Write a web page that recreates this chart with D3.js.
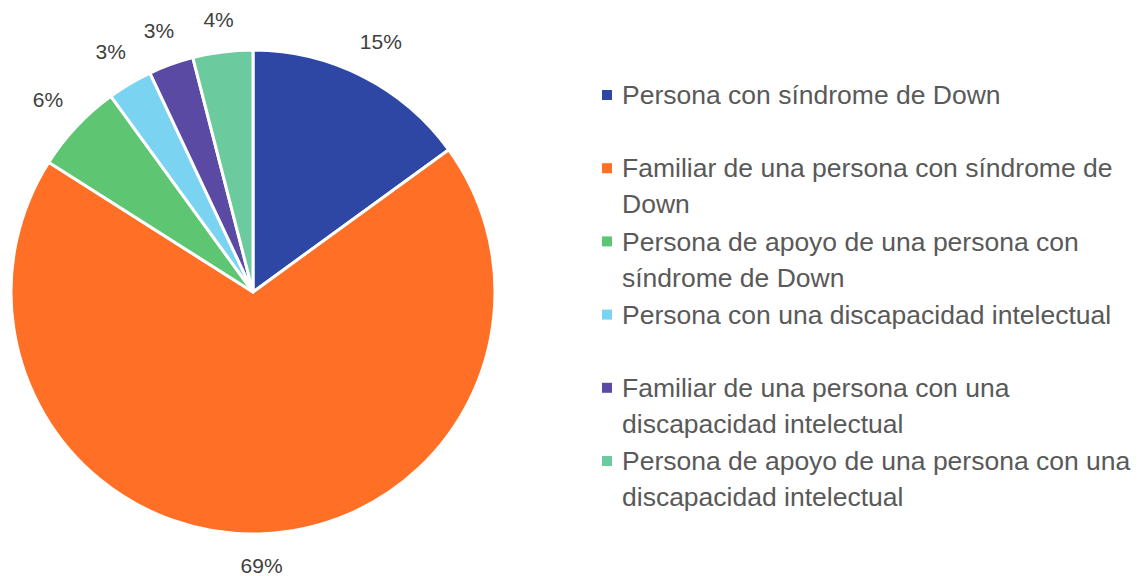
<!DOCTYPE html>
<html>
<head>
<meta charset="utf-8">
<script src="https://cdn.jsdelivr.net/npm/d3@7"></script>
<style>
  body { margin: 0; background: #fff; }
  text { font-family: "Liberation Sans", Arial, sans-serif; }
</style>
</head>
<body>
<div id="chart"></div>
<script>
// datos del gráfico
const categories = [
  'Persona con síndrome de Down',
  'Familiar de una persona con síndrome de Down',
  'Persona de apoyo de una persona con síndrome de Down',
  'Persona con una discapacidad intelectual',
  'Familiar de una persona con una discapacidad intelectual',
  'Persona de apoyo de una persona con una discapacidad intelectual'
]
const values = [15, 69, 6, 3, 3, 4]
const colors = ['#2E47A4', '#FF6F26', '#5EC573', '#7AD4F1', '#5A4AA4', '#6CCB9E']

const width = 1142
const height = 576
const cx = 253
const cy = 292
const radius = 242

const svg = d3.select('#chart')
  .append('svg')
  .attr('width', width)
  .attr('height', height)

const color = d3.scaleOrdinal()
  .domain(categories)
  .range(colors)

const pie = d3.pie()
  .sort(null)
  .value((d, i) => values[i])

const arcs = pie(categories)

const arc = d3.arc()
  .innerRadius(0)
  .outerRadius(radius)

const g = svg.append('g')
  .attr('transform', `translate(${cx},${cy})`)

g.selectAll('path')
  .data(arcs)
  .enter()
  .append('path')
  .attr('d', arc)
  .style('fill', d => color(d.data))
  .style('stroke', '#fff')
  .style('stroke-width', 3)
  .style('stroke-linejoin', 'round')

// etiquetas fuera del borde, separadas según el tamaño del texto
const total = d3.sum(values)
const gap = 22
g.selectAll('text.pct')
  .data(arcs)
  .enter()
  .append('text')
  .attr('class', 'pct')
  .attr('text-anchor', 'middle')
  .attr('dy', '0.36em')
  .style('font-size', '21px')
  .style('fill', '#404040')
  .text(d => Math.round(d.value / total * 100) + '%')
  .attr('transform', function (d) {
    const a = (d.startAngle + d.endAngle) / 2
    const hw = this.getComputedTextLength() / 2
    const hh = 9
    const dist = radius + gap + Math.abs(Math.sin(a)) * hw + Math.abs(Math.cos(a)) * hh
    return `translate(${Math.sin(a) * dist},${-Math.cos(a) * dist})`
  })

// leyenda
const legendY = d3.scalePoint()
  .domain(categories)
  .range([95, 461])

const legend = svg.append('g')
  .selectAll('g')
  .data(categories)
  .enter()
  .append('g')
  .attr('transform', d => `translate(602,${legendY(d)})`)

legend.append('rect')
  .attr('x', 0)
  .attr('y', -5)
  .attr('width', 10)
  .attr('height', 10)
  .style('fill', d => color(d))

const maxWidth = 522
legend.append('text')
  .attr('x', 20)
  .attr('y', 0)
  .style('font-size', '26.5px')
  .style('fill', '#595959')
  .each(function (d) {
    const text = d3.select(this)
    const words = d.split(' ')
    let line = []
    let tspan = text.append('tspan').attr('x', 20).attr('dy', '0.35em')
    words.forEach(w => {
      line.push(w)
      tspan.text(line.join(' '))
      if (tspan.node().getComputedTextLength() > maxWidth && line.length > 1) {
        line.pop()
        tspan.text(line.join(' '))
        line = [w]
        tspan = text.append('tspan').attr('x', 20).attr('dy', '36px').text(w)
      }
    })
  })
</script>
</body>
</html>
